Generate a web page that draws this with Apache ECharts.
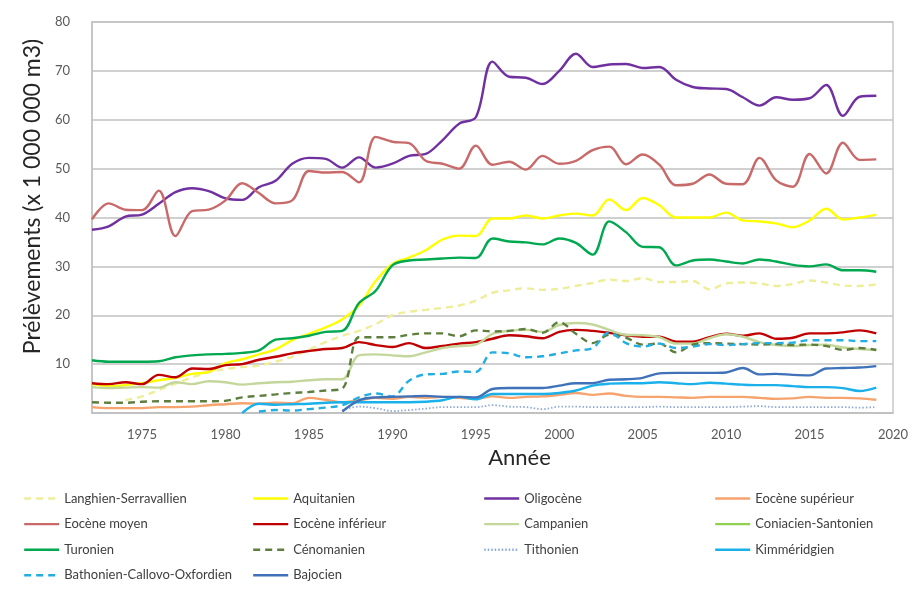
<!DOCTYPE html>
<html><head><meta charset="utf-8">
<script src="https://cdn.jsdelivr.net/npm/echarts@6/dist/echarts.min.js"></script>
<style>html,body{margin:0;padding:0;background:#fff}#c{width:920px;height:589px}</style>
</head><body><div id="c"></div>
<script>
const years = [1972,1973,1974,1975,1976,1977,1978,1979,1980,1981,1982,1983,1984,1985,1986,1987,1988,1989,1990,1991,1992,1993,1994,1995,1996,1997,1998,1999,2000,2001,2002,2003,2004,2005,2006,2007,2008,2009,2010,2011,2012,2013,2014,2015,2016,2017,2018,2019];
const xTickLabels = [1975,1980,1985,1990,1995,2000,2005,2010,2015,2020];

const langhien = [null,null,2.6,3.4,4.7,6.0,7.3,8.3,9.0,9.4,9.7,10.5,11.5,13.0,14.5,15.8,16.8,18.2,20.0,20.7,21.1,21.5,22.0,23.0,24.6,25.1,25.5,25.2,25.4,26.0,26.6,27.3,27.0,27.6,26.8,26.8,27.0,25.3,26.5,26.7,26.5,26.0,26.4,27.1,26.7,26.1,26.0,26.3];
const aquitanien = [5.9,5.5,5.7,6.1,6.7,7.2,8.0,8.4,10.2,11.0,12.0,13.0,14.9,16.2,17.5,19.2,22.0,27.0,30.5,31.8,33.3,35.5,36.3,36.2,39.8,39.8,40.4,39.8,40.4,40.8,40.4,43.7,41.5,44.0,42.5,40.0,40.0,40.0,41.0,39.4,39.2,38.8,38.0,39.4,41.8,39.6,40.0,40.6];
const oligocene = [37.5,38.2,40.2,40.6,42.8,45.2,46.0,45.4,43.9,43.6,46.2,47.5,51.0,52.2,52.0,50.2,52.3,50.2,51.0,52.6,53.0,55.8,59.2,60.5,71.9,68.8,68.6,67.3,70.0,73.5,70.8,71.3,71.4,70.6,70.8,68.2,66.7,66.4,66.3,64.6,62.9,64.6,64.1,64.4,67.1,60.8,64.7,64.9];
const eoceneSup = [1.2,1.0,1.0,1.0,1.2,1.2,1.3,1.6,1.8,2.0,1.9,2.1,2.0,3.1,2.7,2.2,2.6,3.1,2.9,3.3,3.1,3.3,3.1,2.9,3.4,3.1,3.3,3.4,3.7,4.1,3.7,4.0,3.5,3.3,3.3,3.2,3.1,3.3,3.3,3.3,3.1,2.9,3.0,3.3,3.1,3.1,3.0,2.7];
const eoceneMoyen = [39.6,42.9,41.6,41.5,45.5,36.2,41.3,41.6,43.5,47.0,45.0,42.9,43.5,49.5,49.2,49.3,47.2,56.5,55.5,55.2,51.6,51.0,50.0,54.7,50.8,51.4,49.8,52.6,51.0,51.6,53.8,54.5,50.9,52.9,50.8,46.6,46.9,48.8,46.9,46.8,52.2,47.6,46.3,53.0,49.0,55.3,51.8,51.9];
const eoceneInf = [6.1,5.9,6.3,5.9,7.8,7.3,9.1,9.0,9.8,10.0,10.9,11.5,12.2,12.7,13.1,13.3,14.5,13.9,13.5,14.3,13.3,13.7,14.2,14.5,15.2,15.9,15.7,15.3,16.6,17.0,16.8,16.4,15.9,15.6,15.6,14.6,14.6,15.5,16.2,15.8,16.3,15.2,15.4,16.3,16.3,16.5,16.9,16.3];
const campanien = [5.3,5.1,5.2,5.3,5.2,6.3,5.9,6.5,6.3,5.8,6.1,6.3,6.4,6.7,6.9,6.9,11.8,12.0,11.8,11.6,12.4,13.3,13.7,14.0,16.2,16.8,17.0,16.6,18.0,18.4,18.1,17.0,16.0,15.9,15.5,14.2,14.2,15.3,16.1,15.6,14.5,13.9,13.7,13.9,14.0,13.4,13.1,12.9];
const coniacien = [];
const turonien = [10.8,10.5,10.5,10.5,10.6,11.4,11.8,12.0,12.1,12.3,12.8,15.0,15.3,15.8,16.6,16.8,22.5,25.0,30.2,31.2,31.4,31.6,31.8,31.7,35.7,35.1,34.9,34.5,35.7,34.8,32.4,39.2,37.0,34.0,33.9,30.2,31.2,31.4,31.0,30.6,31.4,31.0,30.3,30.0,30.4,29.2,29.2,28.9];
const cenomanien = [2.2,2.1,2.1,2.3,2.4,2.4,2.4,2.4,2.5,3.2,3.5,3.8,4.1,4.3,4.6,5.0,15.5,15.5,15.5,16.0,16.3,16.3,15.7,16.9,16.7,16.8,17.2,16.4,18.6,16.2,14.3,16.0,15.4,14.0,14.2,12.4,14.0,14.3,14.2,14.1,14.0,14.1,13.9,14.0,13.7,12.9,13.3,12.9];
const tithonien = [null,null,null,null,null,null,null,null,null,null,null,null,null,null,null,0.6,1.3,1.0,0.4,0.6,0.9,1.2,1.2,1.2,1.6,1.3,1.2,0.8,1.3,1.3,1.2,1.2,1.2,1.2,1.3,1.2,1.2,1.2,1.2,1.3,1.4,1.2,1.2,1.2,1.2,1.2,1.1,1.2];
const kimmeridgien = [null,null,null,null,null,null,null,null,null,0.0,1.9,1.7,1.8,1.9,2.1,2.2,2.2,2.2,2.2,2.2,2.3,2.6,3.3,2.8,3.9,3.9,3.9,3.9,4.1,4.6,5.6,6.0,6.1,6.1,6.3,6.1,5.9,6.2,6.0,5.8,5.7,5.7,5.5,5.3,5.3,5.1,4.5,5.2];
const bathonien = [null,null,null,null,null,null,null,null,null,null,0.3,0.6,0.5,0.8,1.1,1.6,3.2,4.0,3.4,6.6,7.9,8.0,8.5,8.4,12.4,12.2,11.4,11.6,12.2,12.8,13.3,16.5,14.3,13.6,14.2,13.3,13.6,14.1,13.9,14.1,14.3,14.3,14.4,14.9,14.9,14.9,14.7,14.7];
const bajocien = [null,null,null,null,null,null,null,null,null,null,null,null,null,null,null,0.3,2.6,3.2,3.3,3.4,3.5,3.3,3.3,3.2,4.9,5.1,5.1,5.1,5.6,6.1,6.1,6.8,6.9,7.2,8.1,8.2,8.2,8.2,8.3,9.2,7.9,8.0,7.8,7.7,9.1,9.2,9.3,9.6];

const FONT = 'Lato, "Open Sans", sans-serif';
const defs = [
  {name:'Langhien-Serravallien', data:langhien, color:'#eeee99', type:[7,5]},
  {name:'Aquitanien', data:aquitanien, color:'#ffff00', type:'solid'},
  {name:'Oligocène', data:oligocene, color:'#7030a0', type:'solid'},
  {name:'Eocène supérieur', data:eoceneSup, color:'#f6a36e', type:'solid'},
  {name:'Eocène moyen', data:eoceneMoyen, color:'#c86a6a', type:'solid'},
  {name:'Eocène inférieur', data:eoceneInf, color:'#c00000', type:'solid'},
  {name:'Campanien', data:campanien, color:'#c4d79b', type:'solid'},
  {name:'Coniacien-Santonien', data:coniacien, color:'#92d050', type:'solid'},
  {name:'Turonien', data:turonien, color:'#00a850', type:'solid'},
  {name:'Cénomanien', data:cenomanien, color:'#5e7e3e', type:[7,5]},
  {name:'Tithonien', data:tithonien, color:'#8eaad6', type:[1.5,2]},
  {name:'Kimméridgien', data:kimmeridgien, color:'#1ab0ea', type:'solid'},
  {name:'Bathonien-Callovo-Oxfordien', data:bathonien, color:'#22aee0', type:[7,5]},
  {name:'Bajocien', data:bajocien, color:'#3f72b8', type:'solid'}
];
function pairs(vals){ return vals.length ? years.map((y,i)=>[y, vals[i]==null?'-':vals[i]]) : []; }

const series = defs.map(d => ({
  name:d.name, type:'line', smooth:0.35, symbol:'none', showSymbol:false,
  data:pairs(d.data), color:d.color,
  lineStyle:{color:d.color, width:d.name==='Tithonien'?1.8:2.4, type:d.type},
  itemStyle:{color:d.color},
  emphasis:{disabled:true}
}));

const legendCols = [
  {left:21, names:['Langhien-Serravallien','Eocène moyen','Turonien','Bathonien-Callovo-Oxfordien']},
  {left:250, names:['Aquitanien','Eocène inférieur','Cénomanien','Bajocien']},
  {left:481, names:['Oligocène','Campanien','Tithonien']},
  {left:712, names:['Eocène supérieur','Coniacien-Santonien','Kimméridgien']}
];
const legends = legendCols.map(c => ({
  orient:'vertical', left:c.left - 3, top:487, itemWidth:35, itemHeight:14, itemGap:12.6,
  data:c.names, selectedMode:false,
  itemStyle:{opacity:0},
  lineStyle:{width:2.4},
  textStyle:{fontFamily:FONT, fontSize:13, color:'#404040'}
}));

const chart = echarts.init(document.getElementById('c'), null, {renderer:'canvas'});
chart.setOption({
  animation:false,
  backgroundColor:'#fff',
  grid:{left:92, right:27, top:22, bottom:176, show:true, borderColor:'#c8c8c8', borderWidth:1.5},
  legend:legends,
  xAxis:{
    type:'value', min:1972, max:2020,
    name:'Année', nameLocation:'middle', nameGap:34,
    nameTextStyle:{fontFamily:FONT, fontSize:22, color:'#262626', padding:[0,0,0,54]},
    axisLine:{show:true, lineStyle:{color:'#c0c0c0', width:1.5}},
    axisTick:{show:false},
    splitLine:{show:false},
    axisLabel:{customValues:xTickLabels, fontFamily:FONT, fontSize:13, color:'#595959', margin:15, formatter:v => String(v)}
  },
  yAxis:{
    type:'value', min:0, max:80, interval:10,
    name:'Prélèvements (x 1 000 000 m3)', nameLocation:'middle', nameGap:48,
    nameTextStyle:{fontFamily:FONT, fontSize:23, color:'#262626', padding:[0,0,0,42]},
    axisLine:{show:true, lineStyle:{color:'#c0c0c0', width:1.5}},
    axisTick:{show:false},
    splitLine:{show:true, lineStyle:{color:'#c0c0c0', width:1.5}},
    axisLabel:{fontFamily:FONT, fontSize:13, color:'#595959', margin:22, formatter:v => v===0 ? '' : String(v)}
  },
  series:series
});
</script></body></html>
